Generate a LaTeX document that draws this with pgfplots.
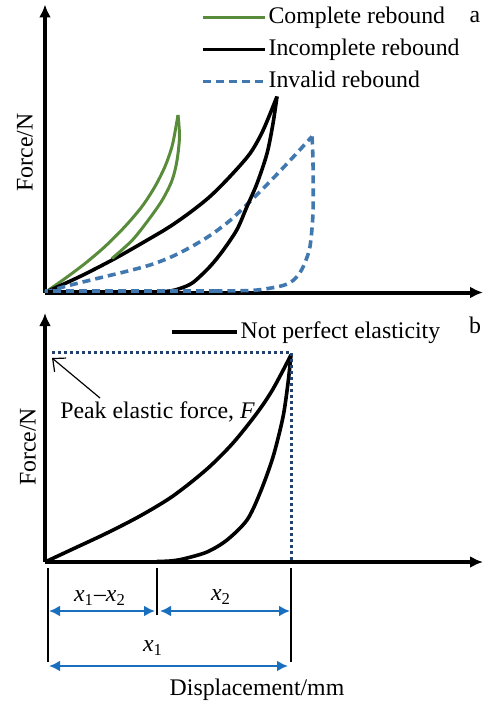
\documentclass[border=0pt]{standalone}
\usepackage{pgfplots}
\pgfplotsset{compat=1.18}
\usepackage{fontspec}
\setmainfont{Liberation Serif}
\usetikzlibrary{arrows.meta}
\definecolor{cgreen}{RGB}{88,140,58}
\definecolor{cblue}{RGB}{65,120,175}
\definecolor{darrow}{RGB}{25,110,190}
\definecolor{cdot}{RGB}{35,65,110}
\pgfplotsset{
  myaxis/.style={
    x=0.5pt, y=0.5pt, enlargelimits=false, clip=false,
    axis lines=left, xtick=\empty, ytick=\empty,
    axis line style={line width=2pt, -{Latex[length=6.5pt,width=6pt]}},
    every axis y label/.style={rotate=90, anchor=center},
    legend cell align=left,
    legend style={draw=none, fill=none, inner sep=0pt, outer sep=0pt, row sep=2pt, column sep=0pt,
      nodes={inner sep=1pt, text height=9pt, text depth=3pt}},
  },
}
\begin{document}
\fontsize{11.9}{14}\selectfont
\begin{tikzpicture}
\useasboundingbox (0,0) rectangle (244pt,-353pt);
% ---------- panel a ----------
\begin{axis}[myaxis, at={(22.5pt,-146.25pt)}, anchor=south west,
  xmin=0, xmax=438, ymin=0, ymax=288,
  ylabel={Force/N},
  every axis y label/.append style={at={(axis description cs:-0.0457,0.486)}},
  legend style={at={(axis cs:156,289)}, anchor=north west},
  legend image code/.code={\draw[#1] (0pt,0pt) -- (31pt,0pt);},
]
\addplot[cgreen, line width=1.5pt, smooth, tension=0.5] coordinates {
(0,0) (20,14) (40,29) (60,46) (80,66) (97,86) (110,106) (120,126) (127,146) (131,166) (133,177.5)};
\addlegendentry{Complete rebound}
\addplot[black, line width=1.8pt, smooth, tension=0.5] coordinates {
(0,0) (35,16) (70,34) (105,54) (125,66) (145,80) (165,96) (185,116) (205,139) (218,162) (232,196)};
\addlegendentry{Incomplete rebound}
\addplot[cblue, line width=1.8pt, dash pattern=on 4pt off 2.5pt, smooth, tension=0.5] coordinates {
(0,0) (20,6) (50,13.5) (83,21.5) (105,27.5) (125,35) (145,45) (165,57) (185,72) (205,91) (225,111) (245,132) (267,156)};
\addlegendentry{Invalid rebound}
% unloading branches
\addplot[cgreen, line width=1.5pt, smooth, tension=0.5, forget plot] coordinates {
(133,177.5) (134.5,156) (132,132) (127,112) (117,92) (103,72) (87,52) (67,34)};
\addplot[black, line width=1.8pt, smooth, tension=0.5, forget plot] coordinates {
(232,196) (228,169) (222,139) (212,109) (202,86) (192,63) (178,42) (165,26) (148,10) (135,4) (125,1.5) (112,0.5)};
\addplot[black, line width=1.8pt, forget plot] coordinates {(112,0.5) (0,0.5)};
\addplot[cblue, line width=1.8pt, dash pattern=on 4pt off 2.5pt, smooth, tension=0.5, forget plot] coordinates {
(267,156) (268,130) (268,80) (265,46) (260,30) (255,20) (248,12) (238,7) (220,3.5) (205,2) (172,1.5)};
\addplot[cblue, line width=1.8pt, dash pattern=on 4pt off 2.5pt, forget plot] coordinates {(172,1.5) (0,1.5)};
\node at (axis cs:430,275) {a};
\end{axis}
% ---------- panel b ----------
\begin{axis}[myaxis, at={(22.5pt,-281pt)}, anchor=south west,
  xmin=0, xmax=438, ymin=0, ymax=249,
  ylabel={Force/N},
  every axis y label/.append style={at={(axis description cs:-0.039,0.462)}},
  xlabel={Displacement/mm},
  every axis x label/.style={at={(axis description cs:0.484,-0.514)}, anchor=center},
  legend style={at={(axis cs:125,244)}, anchor=north west},
  legend image code/.code={\draw[#1] (0pt,0pt) -- (32.5pt,0pt);},
]
\addplot[black, line width=1.8pt, smooth, tension=0.5] coordinates {
(0,0) (30,14) (62,29) (95,46) (128,66) (162,93) (188,119) (212,149) (228,173) (246,207)};
\addlegendentry{Not perfect elasticity}
\addplot[black, line width=1.8pt, smooth, tension=0.5, forget plot] coordinates {
(246,207) (243,179) (238,145) (228,105) (215,69) (202,42) (182,22) (162,10) (138,3) (125,1) (112,0.5)};
\addplot[black, line width=1.8pt, forget plot] coordinates {(112,0.5) (0,0.5)};
\addplot[cdot, line width=1.5pt, dash pattern=on 1.5pt off 1.5pt, forget plot] coordinates {
(7,210) (246,210) (246,0)};
\draw[black, line width=0.6pt, -{Straight Barb[length=5pt,width=9pt]}] (axis cs:55,164) -- (axis cs:7,204);
\node[anchor=west] at (axis cs:7,150) {Peak elastic force, \textit{F}};
\node at (axis cs:430,237) {b};
% dimension lines
\draw[black, line width=0.7pt] (axis cs:3,-6) -- (axis cs:3,-100);
\draw[black, line width=0.7pt] (axis cs:112,-6) -- (axis cs:112,-53);
\draw[black, line width=0.7pt] (axis cs:246,-6) -- (axis cs:246,-100);
\draw[darrow, line width=1.3pt, {Latex[length=5.5pt,width=5.5pt]}-{Latex[length=5.5pt,width=5.5pt]}] (axis cs:4,-49) -- (axis cs:110,-49);
\draw[darrow, line width=1.3pt, {Latex[length=5.5pt,width=5.5pt]}-{Latex[length=5.5pt,width=5.5pt]}] (axis cs:115,-49) -- (axis cs:245,-49);
\draw[darrow, line width=1.3pt, {Latex[length=5.5pt,width=5.5pt]}-{Latex[length=5.5pt,width=5.5pt]}] (axis cs:4,-104) -- (axis cs:243,-104);
\node at (axis cs:55,-36) {\textit{x}\textsubscript{1}--\textit{x}\textsubscript{2}};
\node at (axis cs:176,-35) {\textit{x}\textsubscript{2}};
\node at (axis cs:108,-86) {\textit{x}\textsubscript{1}};
\end{axis}
\end{tikzpicture}
\end{document}
